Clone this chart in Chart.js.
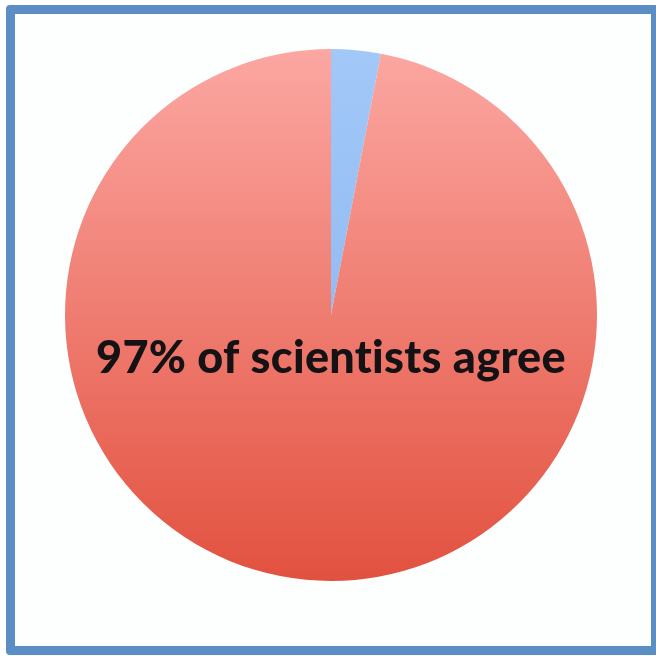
<!DOCTYPE html>
<html>
<head>
<meta charset="utf-8">
<script src="https://cdn.jsdelivr.net/npm/chart.js@4/dist/chart.umd.min.js"></script>
<style>
    html, body { margin: 0; padding: 0; background: #fff; }
    #frame {
        position: absolute; left: 6px; top: 5px; width: 636px; height: 632px;
        border: 9px solid #5b8ec4; border-radius: 4px; background: #fdfefe;
    }
    #wrap { position: absolute; left: 65px; top: 49px; width: 532px; height: 532px; }
</style>
</head>
<body>
<div id="frame"></div>
<div id="wrap"><canvas id="pie" width="532" height="532"></canvas></div>
<script>
// share of scientists: disagree (blue wedge) vs agree (red)
const categorias = ['No', 'Agree'];
const valores = [3, 97];
const etiqueta = '97% of scientists agree';

// vertical gradients, light at the top, darker at the bottom
const gradientes = [
    ['#a2c8f8', '#85b0ee'],
    ['#fca7a2', '#e2513f']
];

function colorSlice(ctx) {
    const chart = ctx.chart;
    const area = chart.chartArea;
    if (!area) return gradientes[ctx.dataIndex][0];
    const g = chart.ctx.createLinearGradient(0, area.top, 0, area.bottom);
    g.addColorStop(0, gradientes[ctx.dataIndex][0]);
    g.addColorStop(1, gradientes[ctx.dataIndex][1]);
    return g;
}

// caption in the middle of the pie
const textoCentro = {
    id: 'textoCentro',
    afterDraw(chart) {
        const c = chart.ctx;
        c.save();
        c.font = '900 45px Lato';
        c.letterSpacing = '0.3px'; // no "ti" ligature
        c.fillStyle = '#141214';
        c.textAlign = 'center';
        c.textBaseline = 'middle';
        c.fillText(etiqueta, 266, 309);
        c.restore();
    }
};

new Chart(document.getElementById('pie').getContext('2d'), {
    type: 'pie',
    data: {
        labels: categorias,
        datasets: [{ data: valores, backgroundColor: colorSlice, borderWidth: 0 }]
    },
    options: {
        responsive: false,
        animation: false,
        layout: { padding: 0 },
        plugins: { legend: { display: false }, tooltip: { enabled: false } }
    },
    plugins: [textoCentro]
});
</script>
</body>
</html>
